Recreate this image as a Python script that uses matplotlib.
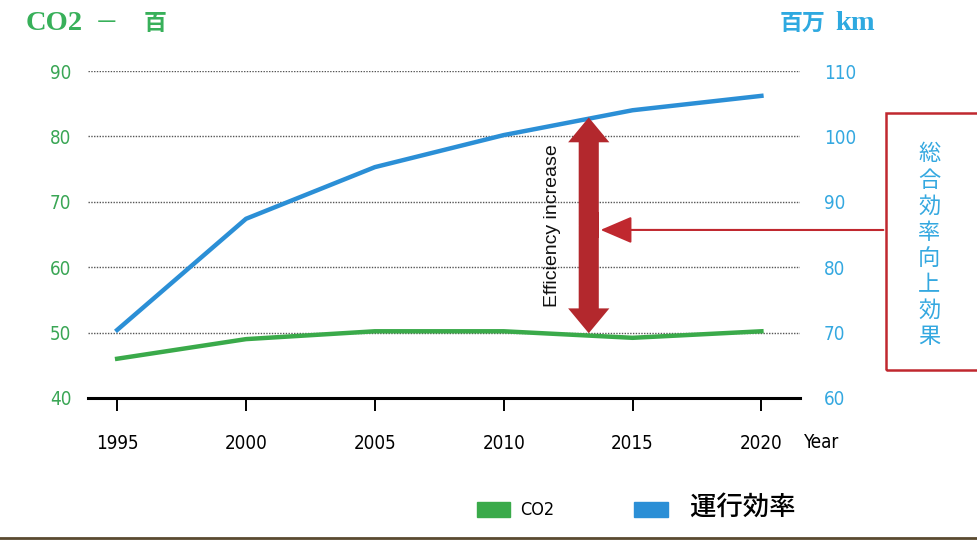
import matplotlib
matplotlib.use("Agg")
import matplotlib.pyplot as plt
import matplotlib.patches as patches
from matplotlib.lines import Line2D

# --- data ---
years = [1995, 2000, 2005, 2010, 2015, 2020]
co2 = [46.0, 49.0, 50.2, 50.2, 49.2, 50.2]
efficiency = [70.4, 87.4, 95.3, 100.2, 104.0, 106.2]
left_ticks = [40, 50, 60, 70, 80, 90]
right_ticks = [60, 70, 80, 90, 100, 110]
arrow_year = 2013.3
arrow_low, arrow_high = 69.9, 102.9

CJK = ["Noto Sans CJK JP", "DejaVu Sans"]
SERIF = ["Liberation Serif", "Noto Sans CJK JP"]
NARROW = dict(family="DejaVu Sans", stretch="condensed")
GREEN = "#3aaa4a"
BLUE = "#2b8fd6"
GREEN_TXT = "#3aa655"
BLUE_TXT = "#34a8e0"
RED = "#b3282d"

fig = plt.figure(figsize=(9.77, 5.4), dpi=100)
ax = fig.add_axes([0.0901, 0.263, 0.7288, 0.6055])
ax2 = ax.twinx()

ax.set_xlim(1993.87, 2021.5)
ax.set_ylim(40, 90)
ax2.set_ylim(60, 110)

for a in (ax, ax2):
    for s in ("top", "left", "right"):
        a.spines[s].set_visible(False)
ax.spines["bottom"].set_linewidth(2.2)
ax2.spines["bottom"].set_visible(False)

# grid
for v in left_ticks[1:]:
    ax.axhline(v, color="#555555", lw=1.0, ls=(0, (1, 1)), zorder=1)

ax.plot(years, co2, color=GREEN, lw=3.2, zorder=3)
ax2.plot(years, efficiency, color=BLUE, lw=3.2, zorder=3)

ax.set_xticks(years)
ax.set_xticklabels([str(y) for y in years], fontsize=13.5, **NARROW)
ax.tick_params(axis="x", direction="out", length=9, width=1.4, pad=17)
ax.set_yticks(left_ticks)
ax.set_yticklabels([str(v) for v in left_ticks], fontsize=13.5, color=GREEN_TXT, **NARROW)
ax.tick_params(axis="y", length=0, pad=12)
ax2.set_yticks(right_ticks)
ax2.set_yticklabels([str(v) for v in right_ticks], fontsize=13.5, color=BLUE_TXT, **NARROW)
ax2.tick_params(axis="y", length=0, pad=17)

ax.text(1.03, -0.135, "Year", transform=ax.transAxes, fontsize=13.5,
        ha="center", va="center", **NARROW)

# double-headed efficiency arrow: two halves from the middle, seam covered
shaft_w = 0.78
mid = (arrow_low + arrow_high) / 2
for end in (arrow_high, arrow_low):
    ax2.add_patch(patches.FancyArrow(arrow_year, mid, 0, end - mid, width=shaft_w,
                                     head_width=1.6, head_length=3.8,
                                     length_includes_head=True, color=RED,
                                     lw=0, zorder=4))
ax2.add_patch(patches.Rectangle((arrow_year - shaft_w / 2, mid - 2), shaft_w, 4,
                                color=RED, lw=0, zorder=4))
ax2.text(arrow_year - 1.4, mid, "Efficiency increase", rotation=90, fontsize=14,
         family="Liberation Sans", ha="center", va="center", color="#111111")

# callout box (runs off the right edge)
box = patches.Rectangle((0.907, 0.315), 0.12, 0.476, transform=fig.transFigure,
                        fill=False, edgecolor="#c0282f", lw=1.8)
fig.add_artist(box)
fig.text(0.951, 0.546, "\n".join("総合効率向上効果"), family=CJK, fontsize=16,
         color=BLUE_TXT, ha="center", va="center", linespacing=1.17)
ax2.annotate("", xy=(arrow_year + 0.35, 85.7), xycoords="data",
             xytext=(0.907, 1 - 230 / 540), textcoords="figure fraction",
             arrowprops=dict(arrowstyle="-|>,head_length=1.4,head_width=0.6",
                             color="#c0282f", lw=1.5, mutation_scale=14))

# titles
fig.text(0.026, 0.957, "CO2", family=SERIF, fontsize=20.5,
         fontweight="bold", color="#38b05a", ha="left", va="center")
fig.text(0.097, 0.957, "－", family=CJK, fontsize=17,
         color="#38b05a", ha="left", va="center")
fig.text(0.147, 0.957, "百", family=CJK, fontsize=16.5, fontweight="bold",
         color="#38b05a", ha="left", va="center")
fig.text(0.798, 0.957, "百万", family=CJK, fontsize=16.5, fontweight="bold",
         color="#2ea9e0", ha="left", va="center")
fig.text(0.855, 0.957, "km", family=SERIF, fontsize=20.5,
         fontweight="bold", color="#2ea9e0", ha="left", va="center")

# legend
handles = [patches.Patch(color=GREEN), patches.Patch(color=BLUE)]
leg = fig.legend(handles, ["CO2", "  運行効率"], loc="center left",
                 bbox_to_anchor=(0.488, 0.06), ncol=2, frameon=False,
                 prop={"family": CJK, "size": 12}, handlelength=2.0,
                 handleheight=1.0, handletextpad=0.6, columnspacing=4.8,
                 borderpad=0, borderaxespad=0)
leg.get_texts()[0].set_family("DejaVu Sans")
leg.get_texts()[0].set_stretch("condensed")
leg.get_texts()[0].set_fontsize(13)
leg.get_texts()[1].set_fontsize(19)
leg.get_texts()[1].set_fontweight("medium")

# page edge
fig.add_artist(Line2D([0, 1], [0.004, 0.004], transform=fig.transFigure,
                      color="#5a4a30", lw=2))

fig.savefig("out.png", dpi=100)
